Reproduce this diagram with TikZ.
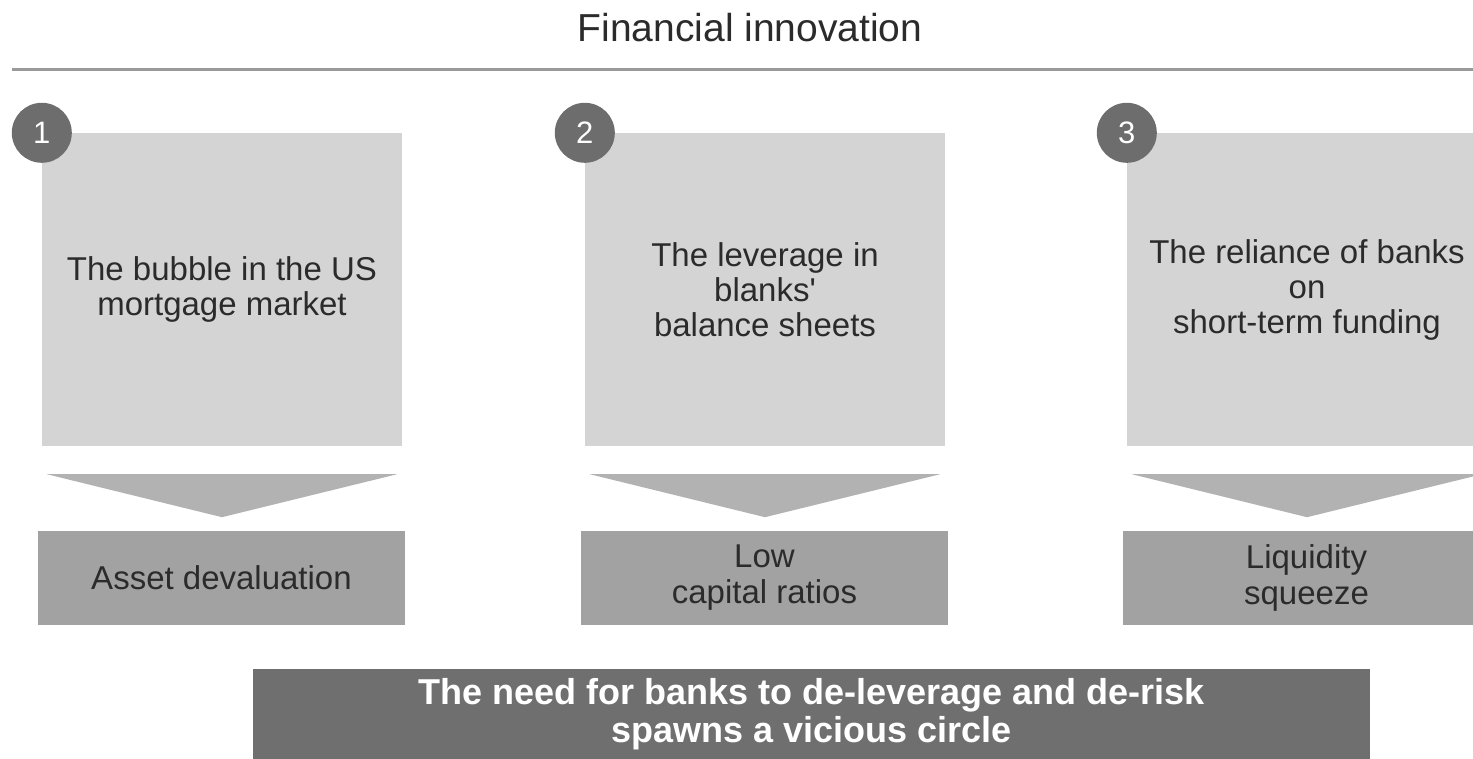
\documentclass[tikz,border=0pt]{standalone}
\usepackage{fontspec}
\setmainfont{Liberation Sans}
\usepackage{xcolor}
\usepackage{tikz}
\usetikzlibrary{calc}
\usetikzlibrary{positioning}
\definecolor{boxgray}{HTML}{D4D4D4}
\definecolor{arrowgray}{HTML}{B2B2B2}
\definecolor{effectgray}{HTML}{A2A2A2}
\definecolor{circlegray}{HTML}{6D6D6D}
\definecolor{needgray}{HTML}{6F6F6F}
\definecolor{rulegray}{HTML}{9A9A9A}
\definecolor{textgray}{HTML}{2B2B2B}

\begin{document}
\begin{tikzpicture}[x=1pt,y=-1pt,
	causebox/.style={fill=boxgray,inner sep=0pt,minimum width=360pt,minimum height=313pt,align=center,text=textgray,font=\fontsize{33}{35}\selectfont},
	effectbox/.style={fill=effectgray,inner sep=0pt,minimum width=367pt,minimum height=94pt,align=center,text=textgray,font=\fontsize{33}{36}\selectfont},
	numcircle/.style={circle,fill=circlegray,inner sep=0pt,minimum size=60pt,text=white,font=\fontsize{31}{31}\selectfont},
	chevron/.style={fill=arrowgray}]
		\useasboundingbox (0,0) rectangle (1473,759);
		\clip (0,0) rectangle (1473,759);
		\node[font=\fontsize{39}{39}\selectfont,text=textgray] (title) at (750,28) {Financial innovation};
		\draw[rulegray,line width=3pt] (12,70) -- (1473,70);
		% the three causes
		\node[causebox] (bubble) at (222,289.5) {The bubble in the US\\mortgage market};
		\node[causebox] (leverage) at (765,289.5) {The leverage in\\blanks\textquotesingle\\balance sheets};
		\node[causebox] (reliance) at (1307,289.5) {The reliance of banks\\on\\short-term funding};
		\node[numcircle] (one) at (bubble.north west) {1};
		\node[numcircle] (two) at (leverage.north west) {2};
		\node[numcircle] (three) at (reliance.north west) {3};
		% chevrons
		\fill[chevron] ($(bubble.south west)+(5,28)$) -- ($(bubble.south east)+(-5,28)$) -- ($(bubble.south)+(0,71)$) -- cycle;
		\fill[chevron] ($(leverage.south west)+(5,28)$) -- ($(leverage.south east)+(-5,28)$) -- ($(leverage.south)+(0,71)$) -- cycle;
		\fill[chevron] ($(reliance.south west)+(5,28)$) -- ($(reliance.south east)+(-5,28)$) -- ($(reliance.south)+(0,71)$) -- cycle;
		% the three effects
		\node[effectbox] (devaluation) at (221.5,578) {Asset devaluation};
		\node[effectbox] (ratios) at (764.5,578) {Low\\capital ratios};
		\node[effectbox] (squeeze) at (1306.5,578) {Liquidity\\squeeze};
		\node[fill=needgray,inner sep=0pt,minimum width=1117pt,minimum height=90pt,align=center,text=white,font=\fontsize{36}{38}\selectfont\bfseries] (need) at (811.5,714) {The need for banks to de-leverage and de-risk\\spawns a vicious circle};
	\end{tikzpicture}
\end{document}
